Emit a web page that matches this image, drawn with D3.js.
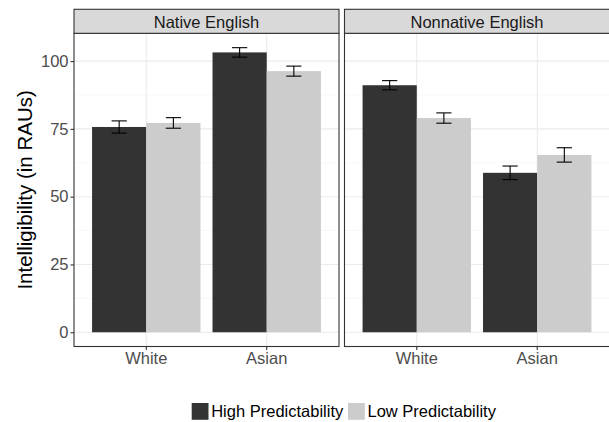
<!DOCTYPE html>
<html>
<head>
<meta charset="utf-8">
<script src="https://cdn.jsdelivr.net/npm/d3@7"></script>
<style>
  html, body { margin: 0; padding: 0; background: #fff; }
  svg { display: block; font-family: "Liberation Sans", Arial, sans-serif; }
</style>
</head>
<body>
<svg id="chart" width="609" height="422"></svg>
<script>
// ---- data ----
const panels = ["Native English", "Nonnative English"];
const categories = ["White", "Asian"];
const series = ["High Predictability", "Low Predictability"];
const seriesColors = ["#333333", "#cccccc"];
const yTicks = [0, 25, 50, 75, 100];
const yMinorTicks = [12.5, 37.5, 62.5, 87.5];

// means per panel, per category
const nativeHigh = [75.7, 103.2];
const nativeLow = [77.2, 96.3];
const nonnativeHigh = [91.1, 58.8];
const nonnativeLow = [79.0, 65.4];
// standard errors (half-length of error bars)
const nativeHighSE = [2.25, 1.75];
const nativeLowSE = [1.95, 1.85];
const nonnativeHighSE = [1.7, 2.5];
const nonnativeLowSE = [1.9, 2.65];

const panelData = [
  { means: [nativeHigh, nativeLow], se: [nativeHighSE, nativeLowSE] },
  { means: [nonnativeHigh, nonnativeLow], se: [nonnativeHighSE, nonnativeLowSE] }
];

// ---- layout ----
const svg = d3.select("#chart");
const panelTop = 33.3, panelBottom = 346.5, stripTop = 9.3;
const panelX = [[74, 339], [344.5, 609.5]];
const drawRight = [339, 611];

const y = d3.scaleLinear().domain([-5.25, 110.25]).range([panelBottom, panelTop]);

panels.forEach((pname, pi) => {
  const [x0, x1] = panelX[pi];
  const xr = drawRight[pi];
  const x = d3.scaleBand().domain(categories).range([x0, x1]).paddingInner(0.1).paddingOuter(0.15);
  const xs = d3.scaleBand().domain(series).range([0, x.bandwidth()]);
  const g = svg.append("g");

  // background
  g.append("rect").attr("x", x0).attr("y", panelTop).attr("width", xr - x0).attr("height", panelBottom - panelTop).attr("fill", "#fff");

  // minor grid
  g.selectAll(".minor").data(yMinorTicks).enter().append("line")
    .attr("x1", x0).attr("x2", xr).attr("y1", d => y(d)).attr("y2", d => y(d))
    .attr("stroke", "#f3f3f3").attr("stroke-width", 0.7);
  // major grid
  g.selectAll(".major").data(yTicks).enter().append("line")
    .attr("x1", x0).attr("x2", xr).attr("y1", d => y(d)).attr("y2", d => y(d))
    .attr("stroke", "#ebebeb").attr("stroke-width", 1.1);
  g.selectAll(".vmajor").data(categories).enter().append("line")
    .attr("x1", d => x(d) + x.bandwidth() / 2).attr("x2", d => x(d) + x.bandwidth() / 2)
    .attr("y1", panelTop).attr("y2", panelBottom)
    .attr("stroke", "#ebebeb").attr("stroke-width", 1.1);

  // bars & error bars
  const pd = panelData[pi];
  series.forEach((s, si) => {
    categories.forEach((c, ci) => {
      const m = pd.means[si][ci], e = pd.se[si][ci];
      const bx = x(c) + xs(s);
      g.append("rect").attr("x", bx).attr("y", y(m))
        .attr("width", xs.bandwidth()).attr("height", y(0) - y(m))
        .attr("fill", seriesColors[si]);
      const cx = bx + xs.bandwidth() / 2;
      const hw = xs.bandwidth() * 0.14;
      const eg = g.append("g").attr("stroke", "#000").attr("stroke-width", 1.1).attr("fill", "none");
      eg.append("line").attr("x1", cx).attr("x2", cx).attr("y1", y(m + e)).attr("y2", y(m - e));
      eg.append("line").attr("x1", cx - hw).attr("x2", cx + hw).attr("y1", y(m + e)).attr("y2", y(m + e));
      eg.append("line").attr("x1", cx - hw).attr("x2", cx + hw).attr("y1", y(m - e)).attr("y2", y(m - e));
    });
  });

  // panel border
  g.append("rect").attr("x", x0).attr("y", panelTop).attr("width", xr - x0).attr("height", panelBottom - panelTop)
    .attr("fill", "none").attr("stroke", "#333333").attr("stroke-width", 1.1);

  // strip
  g.append("rect").attr("x", x0).attr("y", stripTop).attr("width", xr - x0).attr("height", panelTop - stripTop)
    .attr("fill", "#d9d9d9").attr("stroke", "#333333").attr("stroke-width", 1.1);
  g.append("text").attr("x", (x0 + x1) / 2).attr("y", 27.8).attr("text-anchor", "middle")
    .attr("font-size", 16.5).attr("fill", "#1a1a1a").text(pname);

  // x axis
  const xAxis = d3.axisBottom(x).tickSize(3.5).tickPadding(4);
  const ax = g.append("g").attr("transform", `translate(0,${panelBottom})`).call(xAxis);
  ax.select(".domain").remove();
  ax.selectAll(".tick line").attr("stroke", "#333333").attr("stroke-width", 1.1);
  ax.selectAll(".tick text").attr("font-size", 16.5).attr("fill", "#4d4d4d")
    .attr("font-family", "Liberation Sans, Arial, sans-serif").attr("dy", null).attr("y", 17.5);
});

// y axis (left panel only)
const yAxis = d3.axisLeft(y).tickValues(yTicks).tickSize(3.5).tickPadding(2);
const ay = svg.append("g").attr("transform", `translate(${panelX[0][0]},0)`).call(yAxis);
ay.select(".domain").remove();
ay.selectAll(".tick line").attr("stroke", "#333333").attr("stroke-width", 1.1);
ay.selectAll(".tick text").attr("font-size", 16.5).attr("fill", "#4d4d4d")
  .attr("font-family", "Liberation Sans, Arial, sans-serif");

// y title
svg.append("text")
  .attr("transform", `translate(32,${(panelTop + panelBottom) / 2}) rotate(-90)`)
  .attr("text-anchor", "middle").attr("font-size", 20.5).attr("fill", "#000")
  .text("Intelligibility (in RAUs)");

// legend
const legendX = [191.7, 348];
series.forEach((s, si) => {
  svg.append("rect").attr("x", legendX[si]).attr("y", 403).attr("width", 16.8).attr("height", 16.8)
    .attr("fill", seriesColors[si]);
  svg.append("text").attr("x", legendX[si] + 19.5).attr("y", 417.2).attr("font-size", 16.5)
    .attr("fill", "#000").text(s);
});
</script>
</body>
</html>
